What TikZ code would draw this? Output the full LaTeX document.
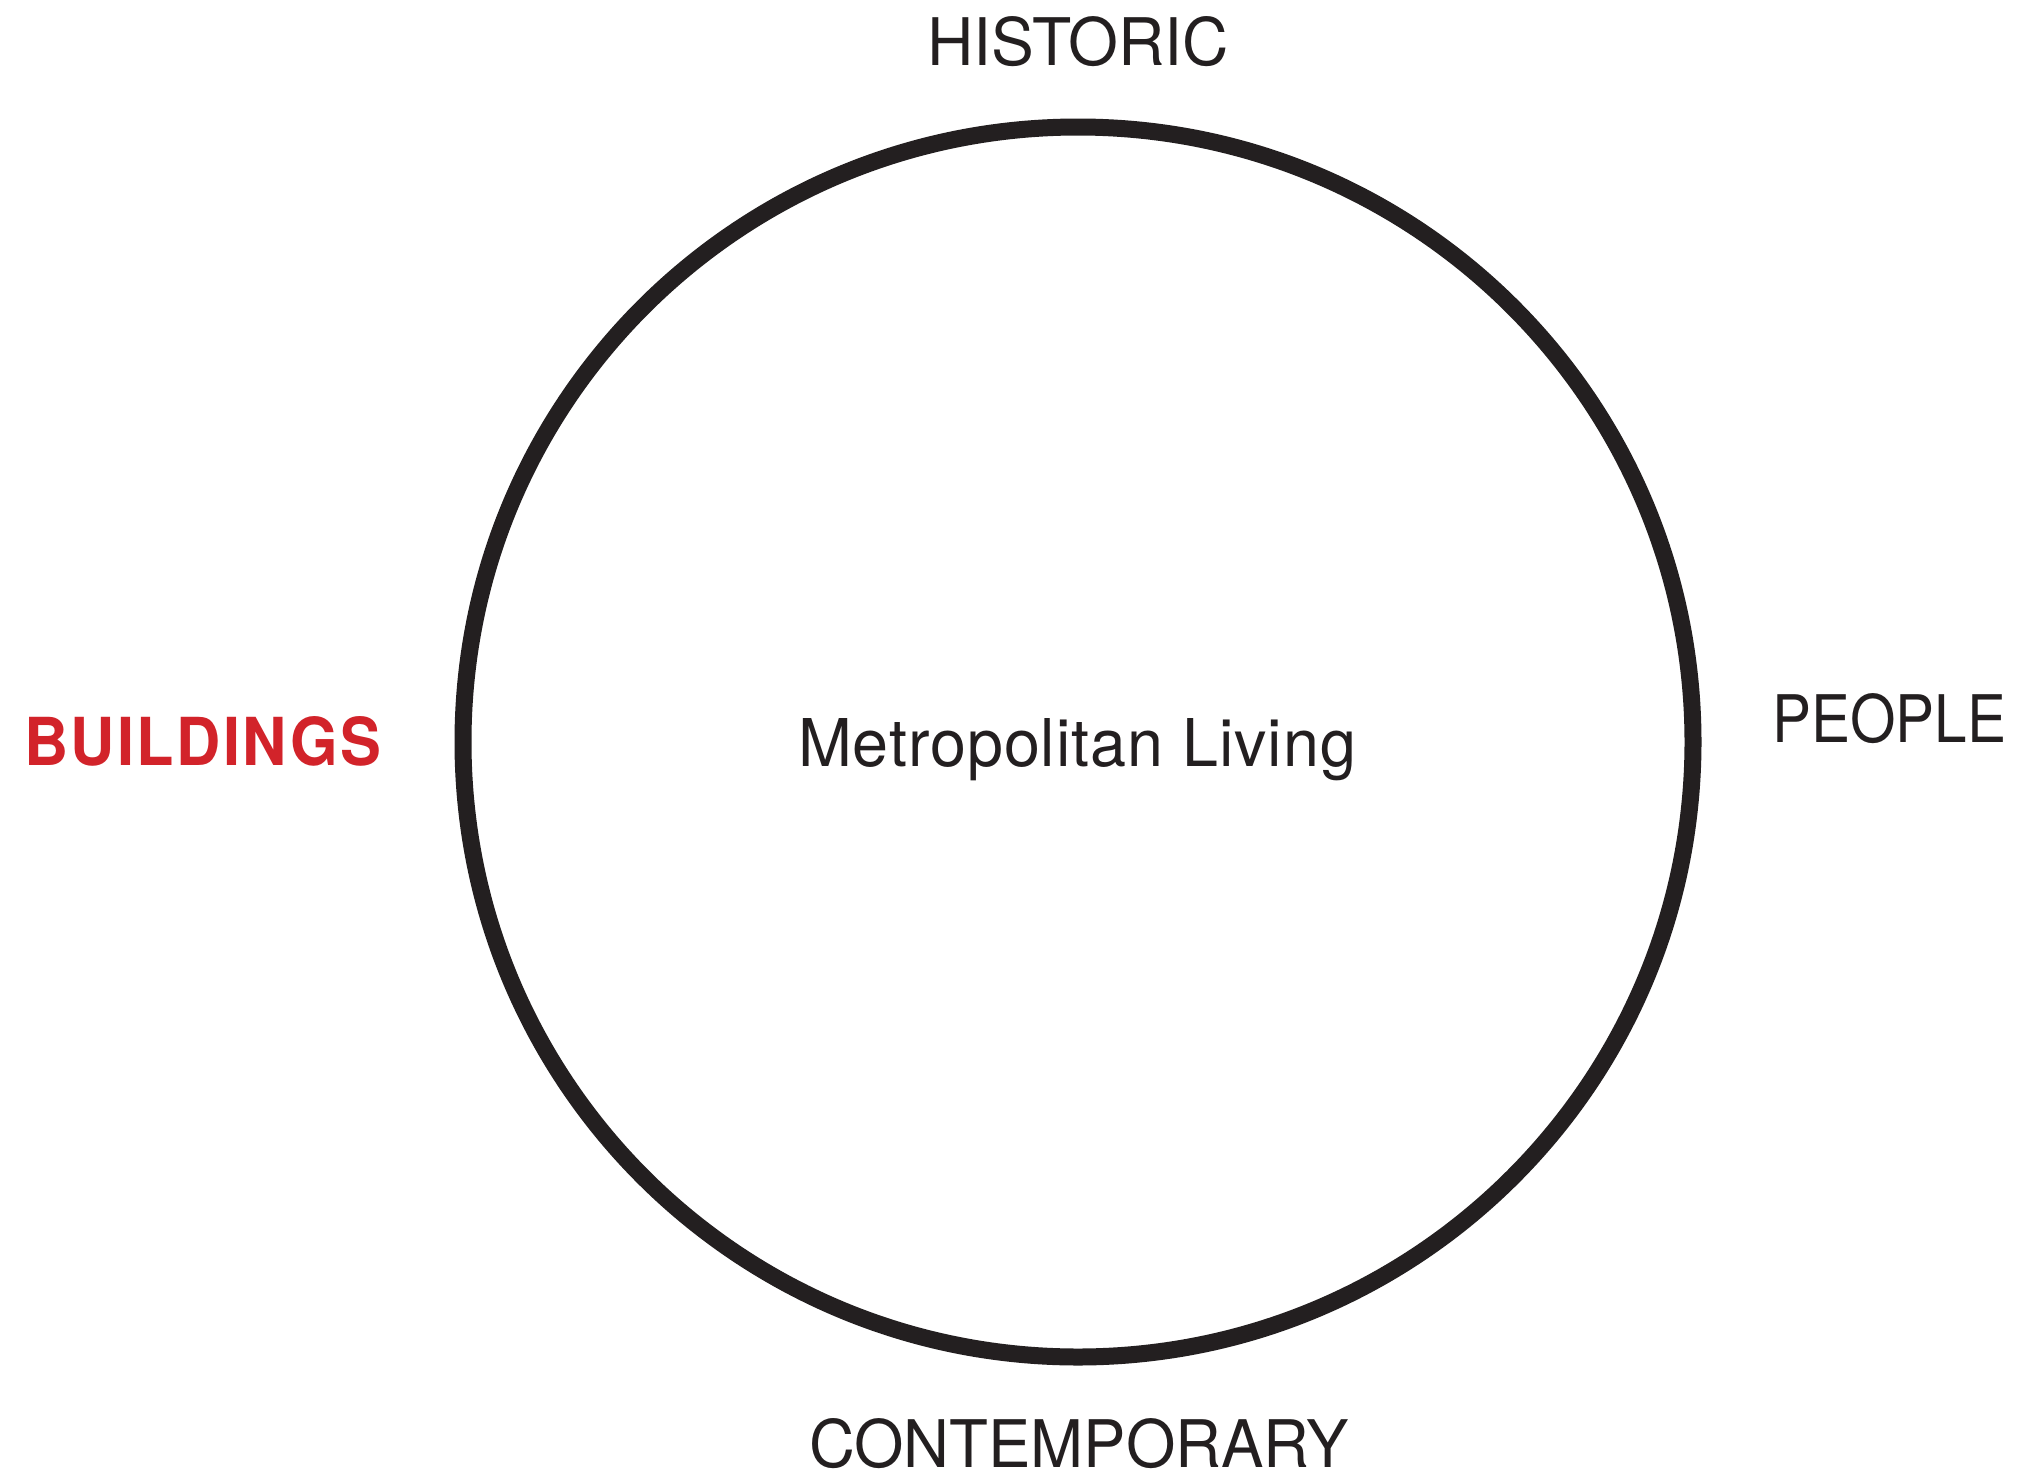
\documentclass[tikz,border=0pt]{standalone}
\usepackage{fontspec}
\usepackage{graphicx}
\setmainfont{TeX Gyre Heros}
\definecolor{ink}{RGB}{35,31,32}
\definecolor{brandred}{RGB}{210,35,42}
\newcommand\fitlabel[3]{\resizebox{#1}{#2}{#3}}
\begin{document}
\begin{tikzpicture}[x=0.5pt,y=-0.5pt,
  lbl/.style={inner sep=0pt, outer sep=0pt, anchor=base west, text=ink},
  ring/.style={draw=ink, circle, line width=8.5pt, minimum size=615pt, inner sep=0pt}]
\useasboundingbox (0,0) rectangle (2024,1478);
\fill[white] (0,0) rectangle (2024,1478);
\node[ring] (ring) at (1078,742) {};
\node[lbl] (historic) at (927,65) {\fitlabel{151pt}{24.5pt}{HISTORIC}};
\node[lbl, text=brandred] (buildings) at (24,765.5) {\fitlabel{178.5pt}{24.5pt}{\bfseries\addfontfeatures{LetterSpace=4}BUILDINGS}};
\node[lbl] (people) at (1772,742) {\fitlabel{117pt}{24.5pt}{PEOPLE}};
\node[lbl] (contemporary) at (809,1467) {\fitlabel{270pt}{24.5pt}{CONTEMPORARY}};
\node[lbl] (center) at (798,766) {\fitlabel{279pt}{24pt}{\addfontfeatures{LetterSpace=1.5}Metropolitan Living}};
\end{tikzpicture}
\end{document}
